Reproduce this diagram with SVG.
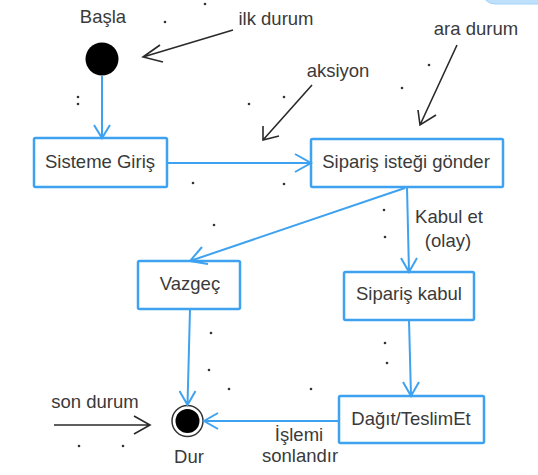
<svg xmlns="http://www.w3.org/2000/svg" width="538" height="475" viewBox="0 0 538 475">
<style>
text{font-family:"Liberation Sans",Arial,sans-serif;font-size:18.5px;fill:#3a3a3a;text-anchor:middle}
.box{fill:#fff;stroke:#3ea2f0;stroke-width:2.5}
.bl{fill:none;stroke:#3ea2f0;stroke-width:2}
.k{fill:none;stroke:#2a2a2a;stroke-width:1.6}
.dot{fill:#333}
</style>
<rect width="538" height="475" fill="#fff"/>
<rect x="482" y="-22" width="80" height="26" rx="13" fill="#bfe0fb" stroke="#a3d2f8" stroke-width="1"/>

<g id="start">
<circle cx="102" cy="59" r="16.5" fill="#000"/>
<text x="103" y="23">Başla</text>
</g>
<g id="sisteme">
<rect class="box" x="34" y="138" width="133" height="49" rx="1.5"/>
<text x="100" y="168">Sisteme Giriş</text>
</g>
<g id="siparis">
<rect class="box" x="311" y="139" width="192" height="48" rx="1.5"/>
<text x="406" y="168">Sipariş isteği gönder</text>
</g>
<g id="vazgec">
<rect class="box" x="138" y="261" width="102" height="48" rx="1.5"/>
<text x="190" y="290">Vazgeç</text>
</g>
<g id="kabul">
<rect class="box" x="344" y="272" width="130" height="48" rx="1.5"/>
<text x="409" y="300">Sipariş kabul</text>
</g>
<g id="dagit">
<rect class="box" x="339" y="396" width="145" height="47" rx="1.5"/>
<text x="411" y="425">Dağıt/TeslimEt</text>
</g>
<g id="dur">
<circle cx="187.5" cy="421" r="15.5" fill="#fff" stroke="#333" stroke-width="1.5"/>
<circle cx="187.5" cy="421" r="12" fill="#000"/>
<text x="189" y="463">Dur</text>
</g>

<g id="connectors">
<path class="bl" d="M102 76V138M94 125L102 138L110 125"/>
<path class="bl" d="M167 163H311M295 154L311 163L295 172"/>
<path class="bl" d="M407 187L409 272M401 258L409 272L417 258"/>
<path class="bl" d="M405 188L190 261M202 247L190 261L208 264"/>
<path class="bl" d="M190 309L187.5 405M179.5 391L187.5 405L195.5 391"/>
<path class="bl" d="M409 320L411 396M403 382L411 396L419 382"/>
<path class="bl" d="M339 421H204M218 413L204 421L218 429"/>
<text x="476" y="35">ara durum</text>
<path class="k" d="M457 45L420 125M418 110L420 125L436 115"/>
<text x="338" y="77">aksiyon</text>
<path class="k" d="M312 85L263 140M263 126L263 140L279 136"/>
<text x="276" y="25">ilk durum</text>
<path class="k" d="M233 30L143 57M160 45L143 57L163 62"/>
<text x="95" y="408">son durum</text>
<path class="k" d="M54 425H150M134 416L150 425L134 434"/>
<text x="449" y="223">Kabul et</text>
<text x="448" y="247">(olay)</text>
<text x="299" y="441">İşlemi</text>
<text x="300" y="462">sonlandır</text>
</g>

<g id="dots">
<circle class="dot" cx="165" cy="22" r="1.3"/>
<circle class="dot" cx="205" cy="4" r="1.3"/>
<circle class="dot" cx="78" cy="97" r="1.3"/>
<circle class="dot" cx="78" cy="104" r="1.3"/>
<circle class="dot" cx="249" cy="104" r="1.3"/>
<circle class="dot" cx="284" cy="97" r="1.3"/>
<circle class="dot" cx="402" cy="88" r="1.3"/>
<circle class="dot" cx="429" cy="65" r="1.3"/>
<circle class="dot" cx="193" cy="183" r="1.3"/>
<circle class="dot" cx="214" cy="225" r="1.3"/>
<circle class="dot" cx="284" cy="184" r="1.3"/>
<circle class="dot" cx="384" cy="210" r="1.3"/>
<circle class="dot" cx="385" cy="237" r="1.3"/>
<circle class="dot" cx="211" cy="333" r="1.3"/>
<circle class="dot" cx="209" cy="370" r="1.3"/>
<circle class="dot" cx="229" cy="389" r="1.3"/>
<circle class="dot" cx="311" cy="389" r="1.3"/>
<circle class="dot" cx="385" cy="343" r="1.3"/>
<circle class="dot" cx="387" cy="363" r="1.3"/>
<circle class="dot" cx="79" cy="446" r="1.3"/>
<circle class="dot" cx="123" cy="446" r="1.3"/>
</g>
</svg>
